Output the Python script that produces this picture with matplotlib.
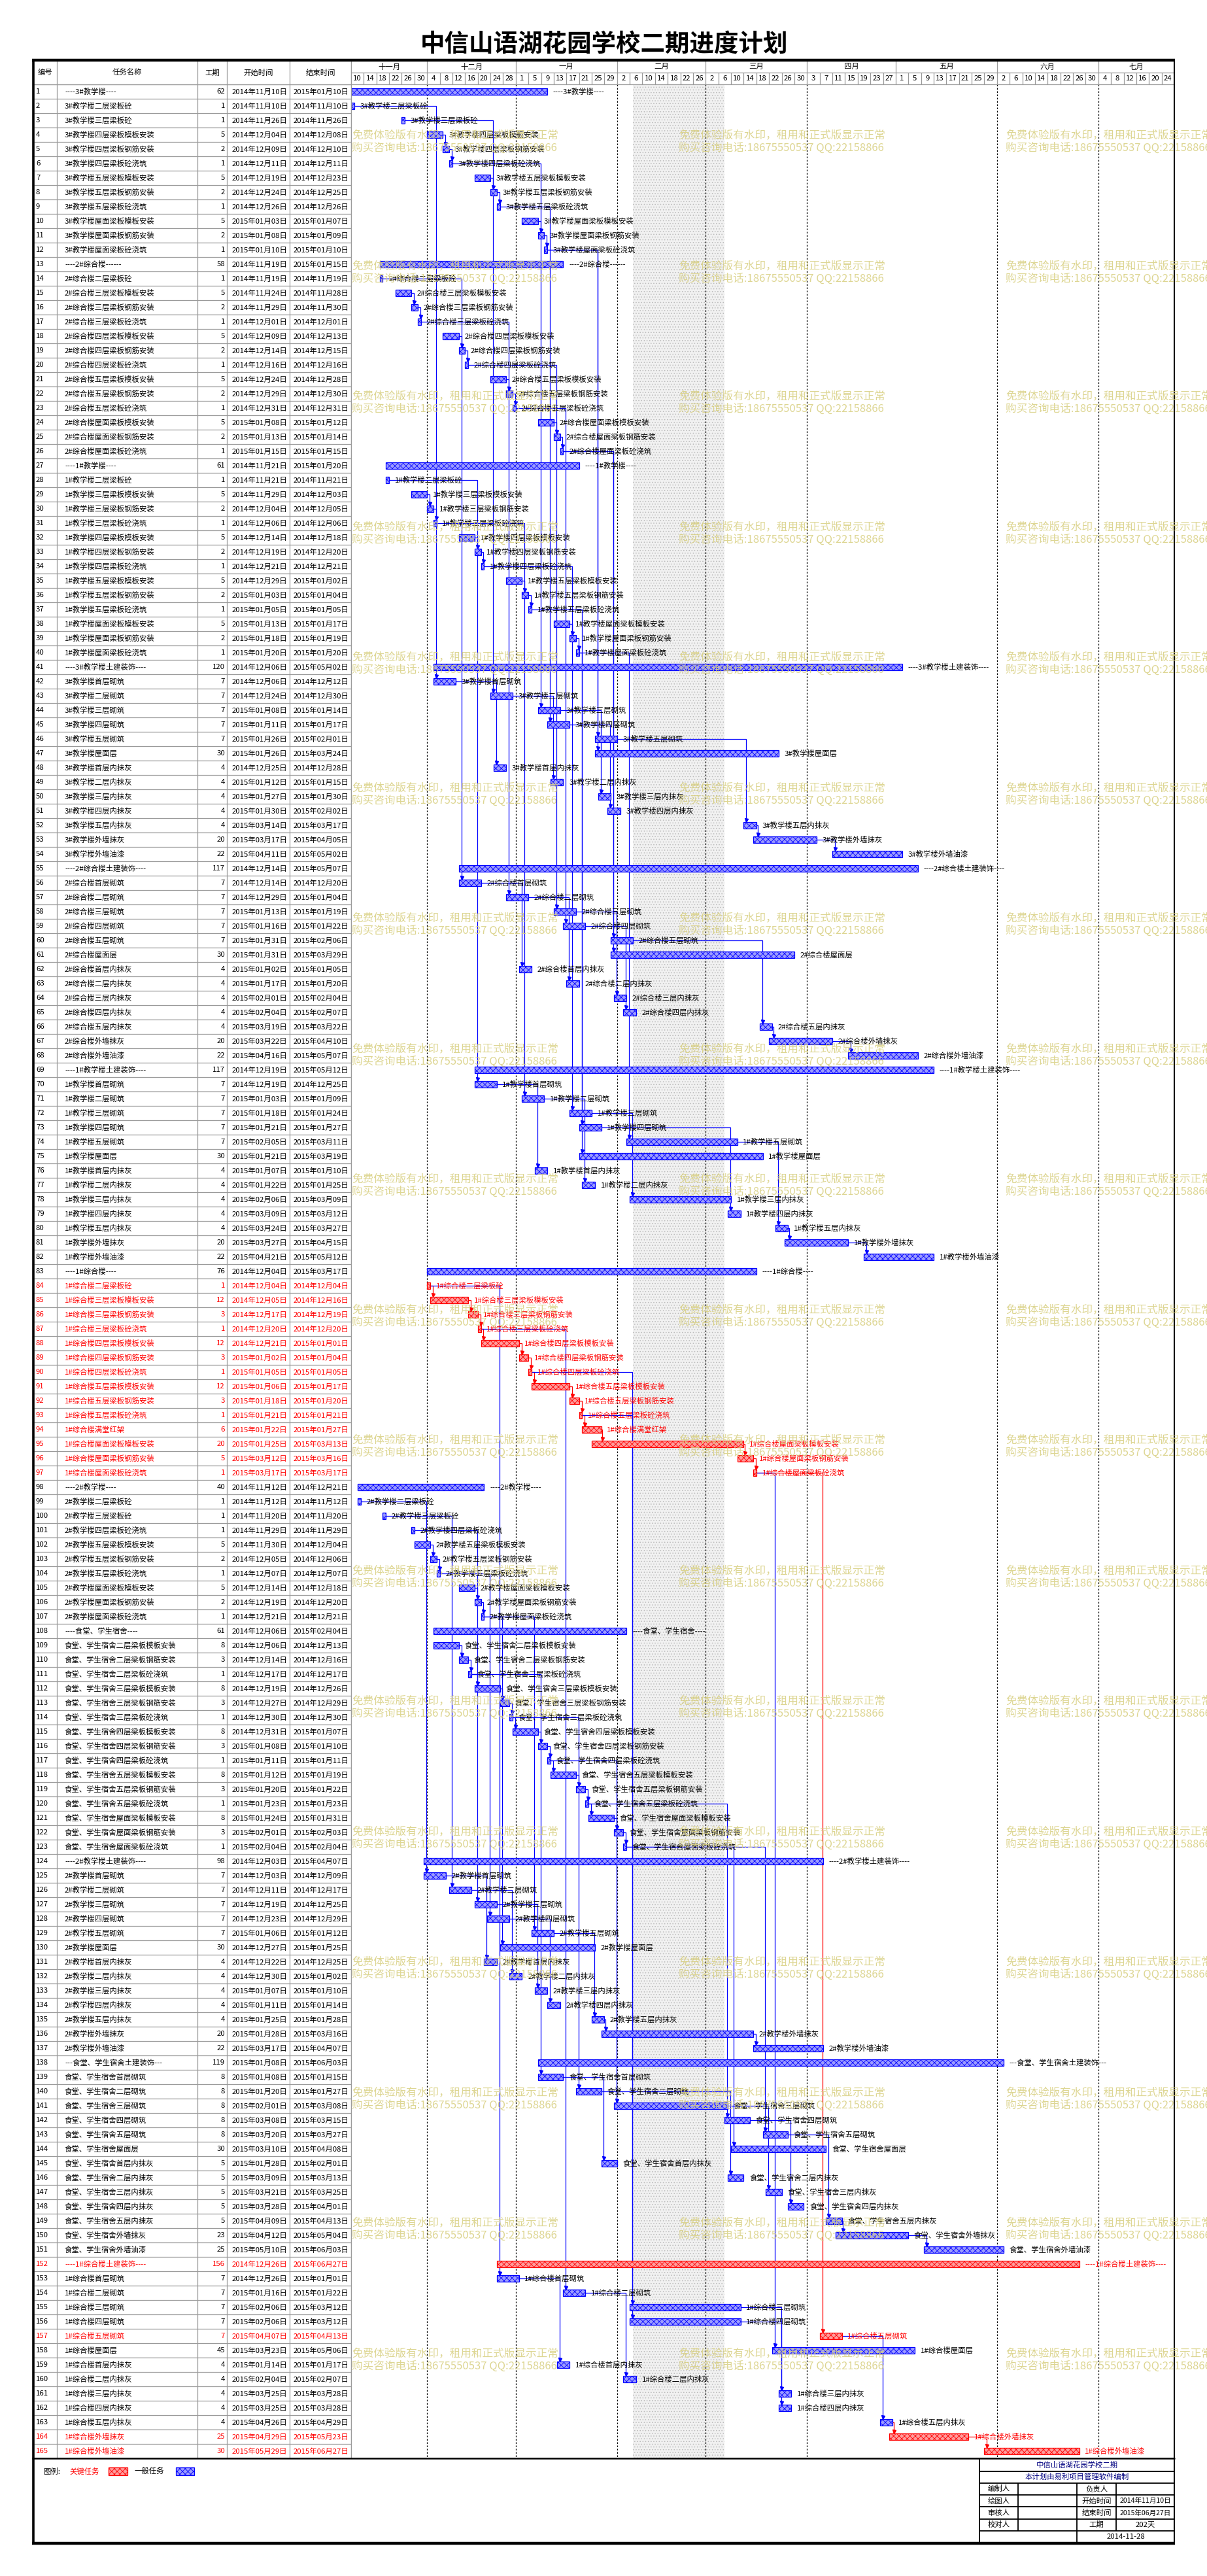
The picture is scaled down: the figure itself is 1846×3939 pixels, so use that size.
import matplotlib
matplotlib.use('Agg')
import numpy as np
import matplotlib.pyplot as plt
import matplotlib.dates as mdates
from matplotlib.patches import Rectangle

plt.rcParams['font.family'] = ['Noto Sans CJK SC', 'DejaVu Sans']
plt.rcParams['hatch.linewidth'] = 0.6

# ---------------------------------------------------------------- data
names = [
    '----3#教学楼----', '3#教学楼二层梁板砼', '3#教学楼三层梁板砼', '3#教学楼四层梁板模板安装',
    '3#教学楼四层梁板钢筋安装', '3#教学楼四层梁板砼浇筑', '3#教学楼五层梁板模板安装', '3#教学楼五层梁板钢筋安装',
    '3#教学楼五层梁板砼浇筑', '3#教学楼屋面梁板模板安装', '3#教学楼屋面梁板钢筋安装', '3#教学楼屋面梁板砼浇筑',
    '----2#综合楼------', '2#综合楼二层梁板砼', '2#综合楼三层梁板模板安装', '2#综合楼三层梁板钢筋安装',
    '2#综合楼三层梁板砼浇筑', '2#综合楼四层梁板模板安装', '2#综合楼四层梁板钢筋安装', '2#综合楼四层梁板砼浇筑',
    '2#综合楼五层梁板模板安装', '2#综合楼五层梁板钢筋安装', '2#综合楼五层梁板砼浇筑', '2#综合楼屋面梁板模板安装',
    '2#综合楼屋面梁板钢筋安装', '2#综合楼屋面梁板砼浇筑', '----1#教学楼----', '1#教学楼二层梁板砼',
    '1#教学楼三层梁板模板安装', '1#教学楼三层梁板钢筋安装', '1#教学楼三层梁板砼浇筑', '1#教学楼四层梁板模板安装',
    '1#教学楼四层梁板钢筋安装', '1#教学楼四层梁板砼浇筑', '1#教学楼五层梁板模板安装', '1#教学楼五层梁板钢筋安装',
    '1#教学楼五层梁板砼浇筑', '1#教学楼屋面梁板模板安装', '1#教学楼屋面梁板钢筋安装', '1#教学楼屋面梁板砼浇筑',
    '----3#教学楼土建装饰----', '3#教学楼首层砌筑', '3#教学楼二层砌筑', '3#教学楼三层砌筑',
    '3#教学楼四层砌筑', '3#教学楼五层砌筑', '3#教学楼屋面层', '3#教学楼首层内抹灰',
    '3#教学楼二层内抹灰', '3#教学楼三层内抹灰', '3#教学楼四层内抹灰', '3#教学楼五层内抹灰',
    '3#教学楼外墙抹灰', '3#教学楼外墙油漆', '----2#综合楼土建装饰----', '2#综合楼首层砌筑',
    '2#综合楼二层砌筑', '2#综合楼三层砌筑', '2#综合楼四层砌筑', '2#综合楼五层砌筑',
    '2#综合楼屋面层', '2#综合楼首层内抹灰', '2#综合楼二层内抹灰', '2#综合楼三层内抹灰',
    '2#综合楼四层内抹灰', '2#综合楼五层内抹灰', '2#综合楼外墙抹灰', '2#综合楼外墙油漆',
    '----1#教学楼土建装饰----', '1#教学楼首层砌筑', '1#教学楼二层砌筑', '1#教学楼三层砌筑',
    '1#教学楼四层砌筑', '1#教学楼五层砌筑', '1#教学楼屋面层', '1#教学楼首层内抹灰',
    '1#教学楼二层内抹灰', '1#教学楼三层内抹灰', '1#教学楼四层内抹灰', '1#教学楼五层内抹灰',
    '1#教学楼外墙抹灰', '1#教学楼外墙油漆', '----1#综合楼----', '1#综合楼二层梁板砼',
    '1#综合楼三层梁板模板安装', '1#综合楼三层梁板钢筋安装', '1#综合楼三层梁板砼浇筑', '1#综合楼四层梁板模板安装',
    '1#综合楼四层梁板钢筋安装', '1#综合楼四层梁板砼浇筑', '1#综合楼五层梁板模板安装', '1#综合楼五层梁板钢筋安装',
    '1#综合楼五层梁板砼浇筑', '1#综合楼满堂红架', '1#综合楼屋面梁板模板安装', '1#综合楼屋面梁板钢筋安装',
    '1#综合楼屋面梁板砼浇筑', '----2#教学楼----', '2#教学楼二层梁板砼', '2#教学楼三层梁板砼',
    '2#教学楼四层梁板砼浇筑', '2#教学楼五层梁板模板安装', '2#教学楼五层梁板钢筋安装', '2#教学楼五层梁板砼浇筑',
    '2#教学楼屋面梁板模板安装', '2#教学楼屋面梁板钢筋安装', '2#教学楼屋面梁板砼浇筑', '----食堂、学生宿舍----',
    '食堂、学生宿舍二层梁板模板安装', '食堂、学生宿舍二层梁板钢筋安装', '食堂、学生宿舍二层梁板砼浇筑', '食堂、学生宿舍三层梁板模板安装',
    '食堂、学生宿舍三层梁板钢筋安装', '食堂、学生宿舍三层梁板砼浇筑', '食堂、学生宿舍四层梁板模板安装', '食堂、学生宿舍四层梁板钢筋安装',
    '食堂、学生宿舍四层梁板砼浇筑', '食堂、学生宿舍五层梁板模板安装', '食堂、学生宿舍五层梁板钢筋安装', '食堂、学生宿舍五层梁板砼浇筑',
    '食堂、学生宿舍屋面梁板模板安装', '食堂、学生宿舍屋面梁板钢筋安装', '食堂、学生宿舍屋面梁板砼浇筑', '----2#教学楼土建装饰----',
    '2#教学楼首层砌筑', '2#教学楼二层砌筑', '2#教学楼三层砌筑', '2#教学楼四层砌筑',
    '2#教学楼五层砌筑', '2#教学楼屋面层', '2#教学楼首层内抹灰', '2#教学楼二层内抹灰',
    '2#教学楼三层内抹灰', '2#教学楼四层内抹灰', '2#教学楼五层内抹灰', '2#教学楼外墙抹灰',
    '2#教学楼外墙油漆', '---食堂、学生宿舍土建装饰---', '食堂、学生宿舍首层砌筑', '食堂、学生宿舍二层砌筑',
    '食堂、学生宿舍三层砌筑', '食堂、学生宿舍四层砌筑', '食堂、学生宿舍五层砌筑', '食堂、学生宿舍屋面层',
    '食堂、学生宿舍首层内抹灰', '食堂、学生宿舍二层内抹灰', '食堂、学生宿舍三层内抹灰', '食堂、学生宿舍四层内抹灰',
    '食堂、学生宿舍五层内抹灰', '食堂、学生宿舍外墙抹灰', '食堂、学生宿舍外墙油漆', '----1#综合楼土建装饰----',
    '1#综合楼首层砌筑', '1#综合楼二层砌筑', '1#综合楼三层砌筑', '1#综合楼四层砌筑',
    '1#综合楼五层砌筑', '1#综合楼屋面层', '1#综合楼首层内抹灰', '1#综合楼二层内抹灰',
    '1#综合楼三层内抹灰', '1#综合楼四层内抹灰', '1#综合楼五层内抹灰', '1#综合楼外墙抹灰',
    '1#综合楼外墙油漆',
]

durations = [
    62, 1, 1, 5, 2, 1, 5, 2, 1, 5, 2, 1,
    58, 1, 5, 2, 1, 5, 2, 1, 5, 2, 1, 5, 2, 1,
    61, 1, 5, 2, 1, 5, 2, 1, 5, 2, 1, 5, 2, 1,
    120, 7, 7, 7, 7, 7, 30, 4, 4, 4, 4, 4, 20, 22,
    117, 7, 7, 7, 7, 7, 30, 4, 4, 4, 4, 4, 20, 22,
    117, 7, 7, 7, 7, 7, 30, 4, 4, 4, 4, 4, 20, 22,
    76, 1, 12, 3, 1, 12, 3, 1, 12, 3, 1, 6, 20, 5, 1,
    40, 1, 1, 1, 5, 2, 1, 5, 2, 1,
    61, 8, 3, 1, 8, 3, 1, 8, 3, 1, 8, 3, 1, 8, 3, 1,
    98, 7, 7, 7, 7, 7, 30, 4, 4, 4, 4, 4, 20, 22,
    119, 8, 8, 8, 8, 8, 30, 5, 5, 5, 5, 5, 23, 25,
    156, 7, 7, 7, 7, 7, 45, 4, 4, 4, 4, 4, 25, 30,
]

starts = [
    '2014-11-10', '2014-11-10', '2014-11-26', '2014-12-04', '2014-12-09', '2014-12-11',
    '2014-12-19', '2014-12-24', '2014-12-26', '2015-01-03', '2015-01-08', '2015-01-10',
    '2014-11-19', '2014-11-19', '2014-11-24', '2014-11-29', '2014-12-01', '2014-12-09', '2014-12-14',
    '2014-12-16', '2014-12-24', '2014-12-29', '2014-12-31', '2015-01-08', '2015-01-13', '2015-01-15',
    '2014-11-21', '2014-11-21', '2014-11-29', '2014-12-04', '2014-12-06', '2014-12-14', '2014-12-19',
    '2014-12-21', '2014-12-29', '2015-01-03', '2015-01-05', '2015-01-13', '2015-01-18', '2015-01-20',
    '2014-12-06', '2014-12-06', '2014-12-24', '2015-01-08', '2015-01-11', '2015-01-26', '2015-01-26',
    '2014-12-25', '2015-01-12', '2015-01-27', '2015-01-30', '2015-03-14', '2015-03-17', '2015-04-11',
    '2014-12-14', '2014-12-14', '2014-12-29', '2015-01-13', '2015-01-16', '2015-01-31', '2015-01-31',
    '2015-01-02', '2015-01-17', '2015-02-01', '2015-02-04', '2015-03-19', '2015-03-22', '2015-04-16',
    '2014-12-19', '2014-12-19', '2015-01-03', '2015-01-18', '2015-01-21', '2015-02-05', '2015-01-21',
    '2015-01-07', '2015-01-22', '2015-02-06', '2015-03-09', '2015-03-24', '2015-03-27', '2015-04-21',
    '2014-12-04', '2014-12-04', '2014-12-05', '2014-12-17', '2014-12-20', '2014-12-21', '2015-01-02',
    '2015-01-05', '2015-01-06', '2015-01-18', '2015-01-21', '2015-01-22', '2015-01-25', '2015-03-12',
    '2015-03-17',
    '2014-11-12', '2014-11-12', '2014-11-20', '2014-11-29', '2014-11-30', '2014-12-05', '2014-12-07',
    '2014-12-14', '2014-12-19', '2014-12-21',
    '2014-12-06', '2014-12-06', '2014-12-14', '2014-12-17', '2014-12-19', '2014-12-27', '2014-12-30',
    '2014-12-31', '2015-01-08', '2015-01-11', '2015-01-12', '2015-01-20', '2015-01-23', '2015-01-24',
    '2015-02-01', '2015-02-04',
    '2014-12-03', '2014-12-03', '2014-12-11', '2014-12-19', '2014-12-23', '2015-01-06', '2014-12-27',
    '2014-12-22', '2014-12-30', '2015-01-07', '2015-01-11', '2015-01-25', '2015-01-28', '2015-03-17',
    '2015-01-08', '2015-01-08', '2015-01-20', '2015-02-01', '2015-03-08', '2015-03-20', '2015-03-10',
    '2015-01-28', '2015-03-09', '2015-03-21', '2015-03-28', '2015-04-09', '2015-04-12', '2015-05-10',
    '2014-12-26', '2014-12-26', '2015-01-16', '2015-02-06', '2015-02-06', '2015-04-07', '2015-03-23',
    '2015-01-14', '2015-02-04', '2015-03-25', '2015-03-25', '2015-04-26', '2015-04-29', '2015-05-29',
]

ends = [
    '2015-01-10', '2014-11-10', '2014-11-26', '2014-12-08', '2014-12-10', '2014-12-11',
    '2014-12-23', '2014-12-25', '2014-12-26', '2015-01-07', '2015-01-09', '2015-01-10',
    '2015-01-15', '2014-11-19', '2014-11-28', '2014-11-30', '2014-12-01', '2014-12-13', '2014-12-15',
    '2014-12-16', '2014-12-28', '2014-12-30', '2014-12-31', '2015-01-12', '2015-01-14', '2015-01-15',
    '2015-01-20', '2014-11-21', '2014-12-03', '2014-12-05', '2014-12-06', '2014-12-18', '2014-12-20',
    '2014-12-21', '2015-01-02', '2015-01-04', '2015-01-05', '2015-01-17', '2015-01-19', '2015-01-20',
    '2015-05-02', '2014-12-12', '2014-12-30', '2015-01-14', '2015-01-17', '2015-02-01', '2015-03-24',
    '2014-12-28', '2015-01-15', '2015-01-30', '2015-02-02', '2015-03-17', '2015-04-05', '2015-05-02',
    '2015-05-07', '2014-12-20', '2015-01-04', '2015-01-19', '2015-01-22', '2015-02-06', '2015-03-29',
    '2015-01-05', '2015-01-20', '2015-02-04', '2015-02-07', '2015-03-22', '2015-04-10', '2015-05-07',
    '2015-05-12', '2014-12-25', '2015-01-09', '2015-01-24', '2015-01-27', '2015-03-11', '2015-03-19',
    '2015-01-10', '2015-01-25', '2015-03-09', '2015-03-12', '2015-03-27', '2015-04-15', '2015-05-12',
    '2015-03-17', '2014-12-04', '2014-12-16', '2014-12-19', '2014-12-20', '2015-01-01', '2015-01-04',
    '2015-01-05', '2015-01-17', '2015-01-20', '2015-01-21', '2015-01-27', '2015-03-13', '2015-03-16',
    '2015-03-17',
    '2014-12-21', '2014-11-12', '2014-11-20', '2014-11-29', '2014-12-04', '2014-12-06', '2014-12-07',
    '2014-12-18', '2014-12-20', '2014-12-21',
    '2015-02-04', '2014-12-13', '2014-12-16', '2014-12-17', '2014-12-26', '2014-12-29', '2014-12-30',
    '2015-01-07', '2015-01-10', '2015-01-11', '2015-01-19', '2015-01-22', '2015-01-23', '2015-01-31',
    '2015-02-03', '2015-02-04',
    '2015-04-07', '2014-12-09', '2014-12-17', '2014-12-25', '2014-12-29', '2015-01-12', '2015-01-25',
    '2014-12-25', '2015-01-02', '2015-01-10', '2015-01-14', '2015-01-28', '2015-03-16', '2015-04-07',
    '2015-06-03', '2015-01-15', '2015-01-27', '2015-03-08', '2015-03-15', '2015-03-27', '2015-04-08',
    '2015-02-01', '2015-03-13', '2015-03-25', '2015-04-01', '2015-04-13', '2015-05-04', '2015-06-03',
    '2015-06-27', '2015-01-01', '2015-01-22', '2015-03-12', '2015-03-12', '2015-04-13', '2015-05-06',
    '2015-01-17', '2015-02-07', '2015-03-28', '2015-03-28', '2015-04-29', '2015-05-23', '2015-06-27',
]

critical_rows = [84, 85, 86, 87, 88, 89, 90, 91, 92, 93, 94, 95, 96, 97, 152, 157, 164, 165]

# finish-to-start links (predecessor row, successor row)
links = [
    (4, 5), (5, 6), (7, 8), (8, 9), (10, 11), (11, 12),
    (15, 16), (16, 17), (18, 19), (19, 20), (21, 22), (22, 23), (24, 25), (25, 26),
    (29, 30), (30, 31), (32, 33), (33, 34), (35, 36), (36, 37), (38, 39), (39, 40),
    (84, 85), (85, 86), (86, 87), (87, 88), (88, 89), (89, 90), (90, 91), (91, 92),
    (92, 93), (93, 94), (94, 95), (95, 96), (96, 97),
    (102, 103), (103, 104), (105, 106), (106, 107),
    (109, 110), (110, 111), (111, 112), (112, 113), (113, 114), (114, 115), (115, 116),
    (116, 117), (117, 118), (118, 119), (119, 120), (120, 121), (121, 122), (122, 123),
    (2, 42), (3, 43), (6, 44), (9, 45), (12, 46), (12, 47),
    (14, 56), (17, 57), (20, 58), (23, 59), (26, 60), (26, 61),
    (28, 70), (31, 71), (34, 72), (37, 73), (40, 74), (40, 75),
    (84, 153), (87, 154), (90, 155), (93, 156), (97, 157), (97, 158),
    (99, 125), (100, 126), (101, 127), (104, 128), (107, 129), (107, 130),
    (111, 139), (114, 140), (117, 141), (120, 142), (123, 143), (123, 144),
    (42, 48), (43, 49), (44, 50), (45, 51), (46, 52), (52, 53), (53, 54),
    (56, 62), (57, 63), (58, 64), (59, 65), (60, 66), (66, 67), (67, 68),
    (70, 76), (71, 77), (72, 78), (73, 79), (74, 80), (80, 81), (81, 82),
    (125, 131), (126, 132), (127, 133), (128, 134), (129, 135), (135, 136), (136, 137),
    (139, 145), (140, 146), (141, 147), (142, 148), (143, 149), (149, 150), (150, 151),
    (153, 159), (154, 160), (155, 161), (156, 162), (157, 163), (163, 164), (164, 165),
]

timeline_start = '2014-11-10'
timeline_days = 260
cell_days = 4
month_names = ['十一月', '十二月', '一月', '二月', '三月', '四月', '五月', '六月', '七月']
month_lines = ['2014-12-04', '2015-01-01', '2015-02-02', '2015-03-02', '2015-04-03',
               '2015-06-02', '2015-07-04']
holiday = ('2015-02-07', '2015-03-08')

col_titles = ['编号', '任务名称', '工期', '开始时间', '结束时间']

watermark_lines = ['免费体验版有水印，租用和正式版显示正常', '购买咨询电话:18675550537 QQ:22158866']

info_rows = [
    ['中信山语湖花园学校二期'],
    ['本计划由易利项目管理软件编制'],
    ['编制人', '', '负责人', ''],
    ['绘图人', '', '开始时间', '2014年11月10日'],
    ['审核人', '', '结束时间', '2015年06月27日'],
    ['校对人', '', '工期', '202天'],
    ['', '2014-11-28'],
]

# ---------------------------------------------------------------- layout (pixels)
W, H = 1846, 3939
ROW_TOP, ROW_H = 129.3, 22.0
N = len(names)
ROW_BOT = ROW_TOP + N * ROW_H
TX0, GX0, GX1 = 52, 537, 1796
col_edges = [TX0, 87, 302, 347, 443, GX0]
FS = 8.2
BLUE, RED = '#0000ff', '#ff0000'
BLUE_FILL, RED_FILL = '#9c9cff', '#ff9c9c'


def frac(x0, y0, x1, y1):
    return [x0 / W, 1 - y1 / H, (x1 - x0) / W, (y1 - y0) / H]


def fmt_date(s):
    y, m, d = s.split('-')
    return '%s年%s月%s日' % (y, m, d)


fig = plt.figure(figsize=(W / 100, H / 100), dpi=100)

# ---------------------------------------------------------------- table
rows = np.arange(1, N + 1)
crit = np.isin(rows, critical_rows)

axt = fig.add_axes(frac(TX0, ROW_TOP, GX0, ROW_BOT))
axt.set_xlim(TX0, GX0)
axt.set_ylim(N + 0.5, 0.5)
axt.axis('off')
axt.hlines(np.arange(0.5, N + 1), TX0, GX0, color='#9a9a9a', lw=0.9)
axt.vlines(col_edges[1:], 0.5, N + 0.5, color='#9a9a9a', lw=0.9)
for i in range(N):
    c = RED if crit[i] else 'black'
    r = rows[i]
    axt.text(TX0 + 3, r, str(r), va='center', ha='left', fontsize=FS, color=c)
    axt.text(99, r, names[i], va='center', ha='left', fontsize=FS, color=c)
    axt.text(344, r, str(durations[i]), va='center', ha='right', fontsize=FS, color=c)
    axt.text(355, r, fmt_date(starts[i]), va='center', ha='left', fontsize=FS, color=c)
    axt.text(449, r, fmt_date(ends[i]), va='center', ha='left', fontsize=FS, color=c)

axht = fig.add_axes(frac(TX0, 93, GX0, ROW_TOP))
axht.set_xlim(TX0, GX0)
axht.set_ylim(1, 0)
axht.axis('off')
axht.vlines(col_edges[1:], 0, 1, color='#9a9a9a', lw=0.9)
for k, t in enumerate(col_titles):
    axht.text((col_edges[k] + col_edges[k + 1]) / 2, 0.5, t, ha='center', va='center', fontsize=FS)

# ---------------------------------------------------------------- gantt
t0 = mdates.datestr2num(timeline_start)
t1 = t0 + timeline_days
s = mdates.datestr2num(starts)
e = mdates.datestr2num(ends) + 1

ax = fig.add_axes(frac(GX0, ROW_TOP, GX1, ROW_BOT))
ax.set_xlim(t0, t1)
ax.set_ylim(N + 0.5, 0.5)
ax.axis('off')

h0, h1 = mdates.datestr2num(holiday[0]), mdates.datestr2num(holiday[1])
ax.axvspan(h0, h1, facecolor='#f1f1f1', edgecolor='#bcbcbc', hatch='....', lw=0, zorder=0)
ax.vlines(mdates.datestr2num(month_lines), 0.5, N + 0.5, color='black', lw=0.9,
          linestyles=(0, (2, 2)), zorder=1)

face = np.where(crit, RED_FILL, BLUE_FILL)
edge = np.where(crit, RED, BLUE)
ax.barh(rows, e - s, left=s, height=0.45, color=face, edgecolor=edge,
        hatch='xxxx', linewidth=0.9, zorder=3)
for i in range(N):
    ax.text(e[i] + 1.8, rows[i], names[i], va='center', ha='left', fontsize=FS,
            color=RED if crit[i] else 'black', zorder=4, clip_on=True)

for a, b in links:
    xa, xb = e[a - 1], s[b - 1]
    xd = max(xa + 0.4, xb + 0.8)
    c = RED if crit[b - 1] else BLUE
    if b > a:
        yb = b - 0.24
        ax.plot([xa, xd, xd], [a, a, yb - 0.12], color=c, lw=0.9, zorder=2)
        ax.plot(xd, yb - 0.13, marker='v', ms=3.6, color=c, mec=c, zorder=2)
    else:
        yb = b + 0.24
        ax.plot([xa, xd, xd], [a, a, yb + 0.12], color=c, lw=0.9, zorder=2)
        ax.plot(xd, yb + 0.13, marker='^', ms=3.6, color=c, mec=c, zorder=2)

# ---------------------------------------------------------------- timeline header
axh = fig.add_axes(frac(GX0, 93, GX1, ROW_TOP))
axh.set_xlim(t0, t1)
axh.set_ylim(2, 0)
axh.axis('off')
cells = t0 + np.arange(0, timeline_days, cell_days)
cell_month = np.array([mdates.num2date(c).month for c in cells])
axh.vlines(cells[1:], 1, 2, color='#9a9a9a', lw=0.9)
axh.hlines([1], t0, t1, color='#9a9a9a', lw=0.9)
for c in cells:
    axh.text(c + cell_days / 2, 1.5, str(mdates.num2date(c).day), ha='center', va='center', fontsize=FS)
bounds = [0] + [k for k in range(1, len(cells)) if cell_month[k] != cell_month[k - 1]] + [len(cells)]
for m in range(len(bounds) - 1):
    x0 = cells[bounds[m]]
    x1 = cells[bounds[m + 1]] if bounds[m + 1] < len(cells) else t1
    if m > 0:
        axh.vlines([x0], 0, 1, color='#9a9a9a', lw=0.9)
    axh.text((x0 + x1) / 2, 0.5, month_names[m], ha='center', va='center', fontsize=FS)

# ---------------------------------------------------------------- overlay: title, frame, legend, watermark
ov = fig.add_axes([0, 0, 1, 1])
ov.set_xlim(0, W)
ov.set_ylim(H, 0)
ov.axis('off')

ov.text((TX0 + GX1) / 2, 68, '中信山语湖花园学校二期进度计划', ha='center', va='center',
        fontsize=27, fontweight='bold')

ov.hlines(ROW_TOP, TX0, GX1, color='#9a9a9a', lw=0.9)
ov.vlines(GX0, 93, ROW_BOT, color='#9a9a9a', lw=0.9)
ov.hlines(91.5, 49, GX1 + 1, color='black', lw=3.2)
ov.hlines(ROW_BOT, 49, GX1 + 1, color='black', lw=1.8)
ov.hlines(3889, 49, GX1 + 1, color='black', lw=3.2)
ov.vlines(50.5, 90, 3891, color='black', lw=2.6)
ov.vlines(GX1, 90, 3891, color='black', lw=1.5)

# legend
ly = 3779
ov.text(66, ly, '图例:', ha='left', va='center', fontsize=FS)
ov.text(106, ly, '关键任务', ha='left', va='center', fontsize=FS, color=RED)
ov.add_patch(Rectangle((166, ly - 6), 29, 12, facecolor=RED_FILL, edgecolor=RED, hatch='xxxx', lw=0.9))
ov.text(206, ly, '一般任务', ha='left', va='center', fontsize=FS)
ov.add_patch(Rectangle((269, ly - 6), 28, 12, facecolor=BLUE_FILL, edgecolor=BLUE, hatch='xxxx', lw=0.9))

# info block
ix = [1498, 1557, 1647, 1707, GX1]
iy = np.linspace(ROW_BOT + 1, 3888, len(info_rows) + 1)
ov.vlines(ix[0], iy[0], iy[-1], color='black', lw=1.3)
ov.hlines(iy[1:-1], ix[0], ix[-1], color='black', lw=1.3)
ov.vlines(ix[1:4], iy[2], iy[6], color='black', lw=1.3)
ov.vlines(ix[2], iy[6], iy[7], color='black', lw=1.3)
for k, row in enumerate(info_rows):
    yc = (iy[k] + iy[k + 1]) / 2
    if len(row) == 1:
        ov.text((ix[0] + ix[-1]) / 2, yc, row[0], ha='center', va='center', fontsize=FS, color='#000080')
    elif len(row) == 2:
        ov.text((ix[2] + ix[4]) / 2, yc, row[1], ha='center', va='center', fontsize=FS)
    else:
        for j, t in enumerate(row):
            ov.text((ix[j] + ix[j + 1]) / 2, yc, t, ha='center', va='center',
                    fontsize=FS - 0.6 if len(t) > 10 else FS)

# watermark (trial version stamp)
for k in range(18):
    y = 208 + k * 199.5
    for x in (538, 1038, 1538):
        for j, line in enumerate(watermark_lines):
            t = ov.text(x, y + j * 18.5, line, ha='left', va='center', fontsize=12,
                        color='#d8cf80', alpha=0.85, zorder=6)
            t.set_clip_box(ax.bbox)

fig.savefig('out.png', dpi=100)
